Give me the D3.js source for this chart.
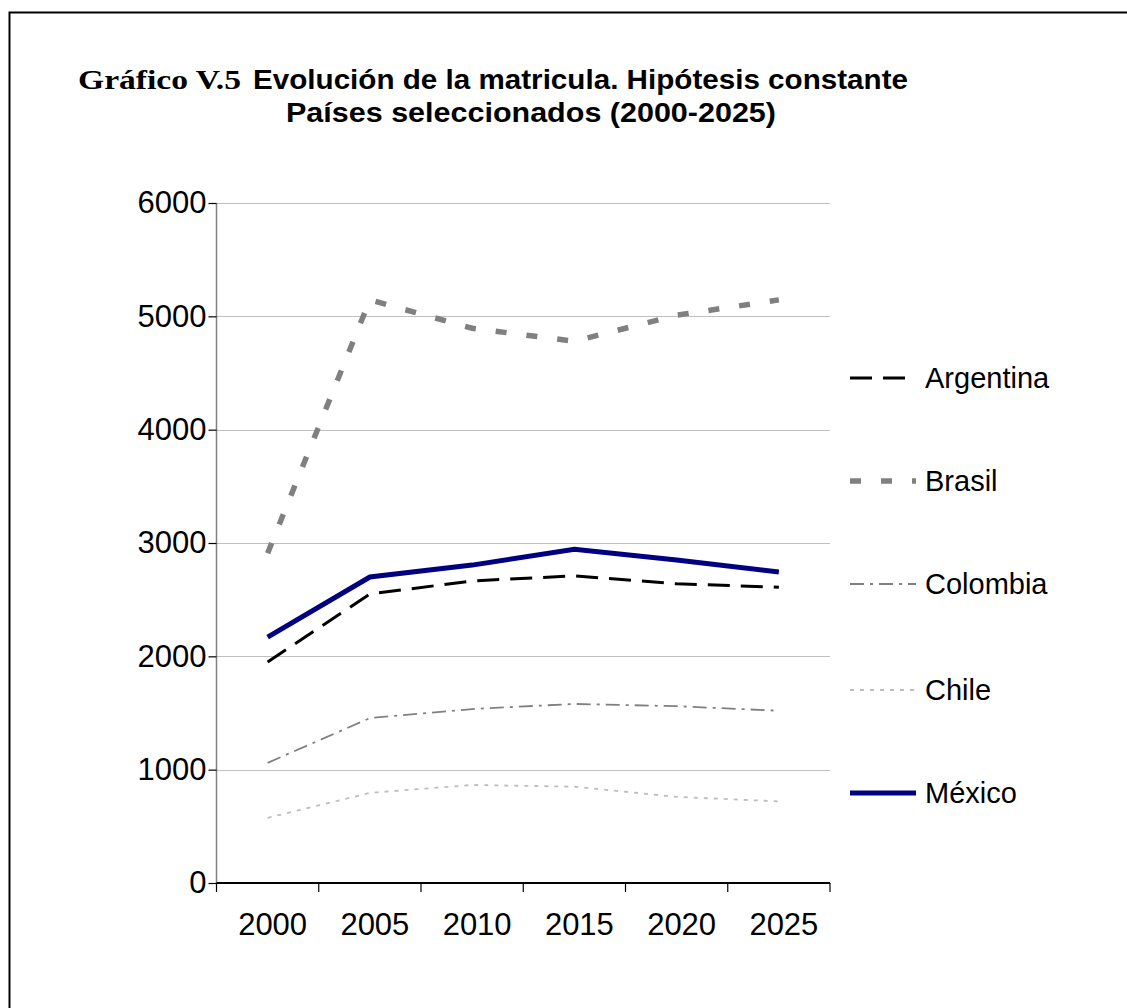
<!DOCTYPE html>
<html>
<head>
<meta charset="utf-8">
<script src="https://cdn.jsdelivr.net/npm/d3@7"></script>
<style>
  html, body { margin: 0; padding: 0; background: #fff; }
  svg { display: block; }
  text { font-family: "Liberation Sans", Arial, sans-serif; }
</style>
</head>
<body>
<svg id="chart" width="1127" height="1008"></svg>
<script>
// Enrolment series (thousands), constant hypothesis, 2000–2025
const years = ["2000", "2005", "2010", "2015", "2020", "2025"];
const argentina = [1950, 2550, 2665, 2710, 2640, 2610];
const brasil    = [2910, 5145, 4895, 4780, 5010, 5145];
const colombia  = [1060, 1455, 1535, 1580, 1560, 1520];
const chile     = [575, 795, 865, 850, 760, 720];
const mexico    = [2170, 2700, 2805, 2945, 2850, 2745];
const yTicks    = [0, 1000, 2000, 3000, 4000, 5000, 6000];

const seriesNames = ["Argentina", "Brasil", "Colombia", "Chile", "México"];
const seriesValues = [argentina, brasil, colombia, chile, mexico];

// Line styles per series
const styles = {
  "Argentina": { stroke: "#000000", width: 3,   dash: "22,11" },
  "Brasil":    { stroke: "#808080", width: 5.5, dash: "11,20" },
  "Colombia":  { stroke: "#808080", width: 1.8, dash: "14,6,3,6" },
  "Chile":     { stroke: "#bdbdbd", width: 1.8, dash: "4,6" },
  "México":    { stroke: "#000080", width: 5,   dash: null }
};

const svg = d3.select("#chart");

// Outer frame
svg.append("rect")
  .attr("x", 9.5).attr("y", 12.5)
  .attr("width", 1140).attr("height", 1010)
  .attr("fill", "none").attr("stroke", "#000").attr("stroke-width", 2);

// Title (condensed to fit the header width)
const t1 = svg.append("text").attr("y", 89).attr("font-weight", "bold");
t1.append("tspan").attr("x", 78)
  .attr("font-size", 28)
  .attr("font-family", "'Liberation Serif', 'Times New Roman', serif")
  .attr("textLength", 163).attr("lengthAdjust", "spacingAndGlyphs")
  .text("Gráfico V.5");
t1.append("tspan").attr("x", 253)
  .attr("font-size", 27)
  .attr("textLength", 655).attr("lengthAdjust", "spacingAndGlyphs")
  .text("Evolución de la matricula. Hipótesis constante");

svg.append("text")
  .attr("x", 286).attr("y", 122)
  .attr("font-weight", "bold").attr("font-size", 27)
  .attr("textLength", 490).attr("lengthAdjust", "spacingAndGlyphs")
  .text("Países seleccionados  (2000-2025)");

// Scales
const x = d3.scaleBand().domain(years).range([216.5, 830]).paddingInner(0).paddingOuter(0);
const y = d3.scaleLinear().domain([0, 6000]).range([883, 203]);
const cx = d => x(d) + x.bandwidth() / 2;

// Gridlines
svg.append("g")
  .selectAll("line")
  .data(yTicks.filter(v => v > 0))
  .join("line")
  .attr("x1", x.range()[0]).attr("x2", x.range()[1])
  .attr("y1", d => Math.round(y(d)) + 0.5).attr("y2", d => Math.round(y(d)) + 0.5)
  .attr("stroke", "#c0c0c0").attr("stroke-width", 1.2);

// Y axis
const yAxis = svg.append("g")
  .attr("transform", `translate(${x.range()[0]},0)`)
  .call(d3.axisLeft(y).tickValues(yTicks).tickFormat(d3.format("d")).tickSize(8).tickPadding(2));
yAxis.select(".domain").attr("stroke", "#808080").attr("stroke-width", 1.5)
  .attr("d", `M0,${y(0)}V${y(6000)}`);
yAxis.selectAll(".tick line").attr("stroke", "#000").attr("stroke-width", 1.2);
yAxis.selectAll(".tick text")
  .attr("font-size", 31).attr("fill", "#000")
  .attr("font-family", "'Liberation Sans', Arial, sans-serif");

// X axis: labels centred in categories, ticks at category boundaries
const xAxis = svg.append("g")
  .attr("transform", `translate(0,${y(0)})`)
  .call(d3.axisBottom(x).tickSize(0).tickPadding(30));
xAxis.select(".domain").attr("stroke", "#000").attr("stroke-width", 2)
  .attr("d", `M${x.range()[0]},0H${x.range()[1]}`);
xAxis.selectAll(".tick text")
  .attr("font-size", 31).attr("fill", "#000").attr("dx", 5)
  .attr("font-family", "'Liberation Sans', Arial, sans-serif");
const bounds = years.map(d => x(d)).concat([x.range()[1]]);
xAxis.selectAll(".bound")
  .data(bounds)
  .join("line")
  .attr("class", "bound")
  .attr("x1", d => d).attr("x2", d => d)
  .attr("y1", 0).attr("y2", 9)
  .attr("stroke", "#000").attr("stroke-width", 1.2);

// Series lines
const line = d3.line().x((d, i) => cx(years[i])).y(d => y(d));
const linesG = svg.append("g");
seriesNames.forEach((name, k) => {
  const s = styles[name];
  linesG.append("path")
    .datum(seriesValues[k])
    .attr("d", line)
    .attr("fill", "none")
    .attr("stroke", s.stroke)
    .attr("stroke-width", s.width)
    .attr("stroke-dasharray", s.dash)
    .attr("stroke-linejoin", "miter");
});

// Legend
const legendY = [378, 481, 584, 690, 793];
const legend = svg.append("g");
seriesNames.forEach((name, k) => {
  const s = styles[name];
  legend.append("line")
    .attr("x1", 850).attr("x2", 916)
    .attr("y1", legendY[k]).attr("y2", legendY[k])
    .attr("stroke", s.stroke)
    .attr("stroke-width", s.width)
    .attr("stroke-dasharray", s.dash);
  legend.append("text")
    .attr("x", 925).attr("y", legendY[k] + 10)
    .attr("font-size", 29)
    .text(name);
});
</script>
</body>
</html>
